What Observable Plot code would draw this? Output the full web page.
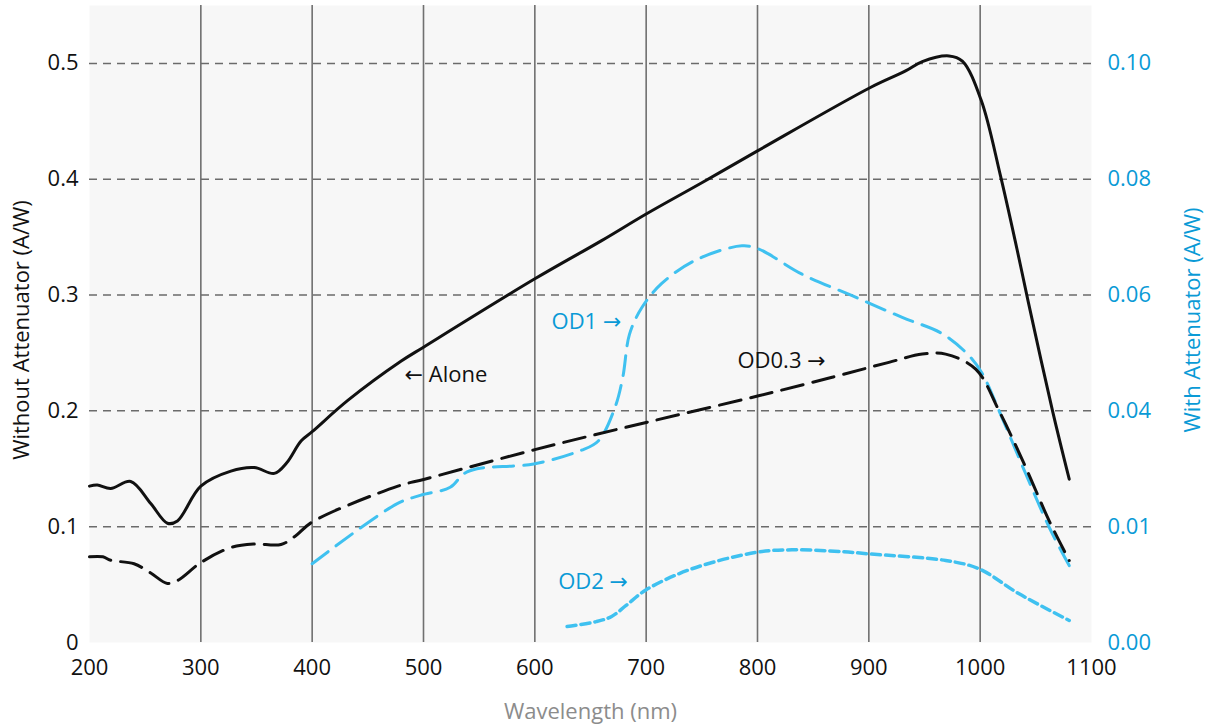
<!DOCTYPE html>
<html><head><meta charset="utf-8">
<script src="https://cdn.jsdelivr.net/npm/d3@7"></script>
<script src="https://cdn.jsdelivr.net/npm/@observablehq/plot@0.6"></script>
<style>body{margin:0;background:#fff;}</style>
</head><body><div id="chart"></div>
<script>
// Wavelength (nm) and responsivity (A/W, left-axis units)
const aloneWl  = [200, 207, 219, 237, 255, 270, 279, 300, 327, 348, 366, 377, 390, 400, 432, 480, 500, 600, 660, 700, 750, 800, 901, 933, 948, 972, 984, 1001, 1018, 1033, 1043, 1065, 1080];
const aloneVal = [0.135, 0.136, 0.133, 0.139, 0.120, 0.103, 0.105, 0.135, 0.148, 0.151, 0.146, 0.155, 0.174, 0.182, 0.209, 0.243, 0.255, 0.314, 0.347, 0.370, 0.397, 0.4245, 0.479, 0.4935, 0.5016, 0.5065, 0.502, 0.468, 0.404, 0.340, 0.295, 0.200, 0.141];

const od03Wl  = [200, 212, 219, 240, 255, 270, 280, 300, 327, 348, 372, 385, 400, 477, 501, 600, 700, 801, 867, 918, 948, 969, 996, 1017, 1041, 1062, 1080];
const od03Val = [0.074, 0.074, 0.071, 0.068, 0.060, 0.051, 0.054, 0.069, 0.082, 0.085, 0.0846, 0.092, 0.104, 0.135, 0.141, 0.1665, 0.190, 0.213, 0.229, 0.2419, 0.249, 0.249, 0.236, 0.200, 0.151, 0.105, 0.0708];

const od1Wl  = [400, 476, 497, 524, 536, 548, 599, 641, 657, 672, 679, 685, 696, 714, 744, 786, 801, 840, 885, 930, 966, 990, 1002, 1017, 1041, 1062, 1080];
const od1Val = [0.068, 0.1197, 0.127, 0.134, 0.1455, 0.150, 0.1542, 0.1657, 0.174, 0.203, 0.229, 0.266, 0.289, 0.310, 0.330, 0.3425, 0.3397, 0.318, 0.2994, 0.2807, 0.2666, 0.2476, 0.232, 0.200, 0.1455, 0.0995, 0.0664];

const od2Wl  = [629, 655, 669, 682, 700, 741, 800, 831, 876, 900, 969, 999, 1035, 1080];
const od2Val = [0.0138, 0.018, 0.0225, 0.032, 0.0455, 0.0636, 0.078, 0.080, 0.0785, 0.0765, 0.0708, 0.0636, 0.042, 0.019];

// Ticks and labels
const xTicks = [200, 300, 400, 500, 600, 700, 800, 900, 1000, 1100];
const yTicks = [0, 0.1, 0.2, 0.3, 0.4, 0.5];
const yLeftLabels  = ["0", "0.1", "0.2", "0.3", "0.4", "0.5"];
const yRightLabels = ["0.00", "0.01", "0.04", "0.06", "0.08", "0.10"];
const gridX = [300, 400, 500, 600, 700, 800, 900, 1000];
const gridY = [0.1, 0.2, 0.3, 0.4, 0.5];

// Annotations
const annText = ["← Alone", "OD1 →", "OD0.3 →", "OD2 →"];
const annX = [483, 615, 782, 621];
const annY = [0.2306, 0.2765, 0.2435, 0.052];
const annSeries = ["black", "blue", "black", "blue"];

const BLUE_LINE = "#3fc1f0";
const BLUE_TEXT = "#0a9ad6";

const rows = (w, v) => w.map((x, i) => ({x, y: v[i]}));
const idx = d => yTicks.findIndex(t => Math.abs(t - d) < 1e-9);
const ann = annText.map((t, i) => ({t, x: annX[i], y: annY[i], c: annSeries[i] === "blue" ? BLUE_TEXT : "#111"}));

const chart = Plot.plot({
  width: 1207, height: 728,
  marginLeft: 89, marginRight: 116, marginTop: 5, marginBottom: 86,
  style: {fontFamily: "'Open Sans', sans-serif", fontSize: "22px", background: "#ffffff", color: "#111"},
  x: {domain: [200, 1100]},
  y: {domain: [0, 0.55]},
  marks: [
    Plot.frame({fill: "#f7f7f7", stroke: "none"}),
    Plot.ruleX(gridX, {stroke: "#707070", strokeWidth: 1.6}),
    Plot.ruleY(gridY, {stroke: "#6b6b6b", strokeWidth: 1.5, strokeDasharray: "8,6"}),
    Plot.axisX({ticks: xTicks, tickSize: 0, tickPadding: 17, tickFormat: d => String(d), label: null, fill: "#111", fontSize: 22}),
    Plot.axisY({ticks: yTicks, tickSize: 0, tickPadding: 11, tickFormat: d => yLeftLabels[idx(d)], label: null, fill: "#111", fontSize: 22}),
    Plot.axisY({anchor: "right", ticks: yTicks, tickSize: 0, tickPadding: 16, tickFormat: d => yRightLabels[idx(d)], label: null, fill: BLUE_TEXT, fontSize: 22}),
    Plot.line(rows(od2Wl, od2Val), {x: "x", y: "y", stroke: BLUE_LINE, strokeWidth: 3.5, strokeDasharray: "9,5", curve: "catmull-rom"}),
    Plot.line(rows(od1Wl, od1Val), {x: "x", y: "y", stroke: BLUE_LINE, strokeWidth: 3, strokeDasharray: "20,10", curve: "catmull-rom"}),
    Plot.line(rows(od03Wl, od03Val), {x: "x", y: "y", stroke: "#111", strokeWidth: 3, strokeDasharray: "22,10", curve: "catmull-rom"}),
    Plot.line(rows(aloneWl, aloneVal), {x: "x", y: "y", stroke: "#111", strokeWidth: 3, curve: "catmull-rom"}),
    Plot.text(ann, {x: "x", y: "y", text: "t", fill: "c", textAnchor: "start", fontSize: 22, fontFamily: "'Open Sans', 'DejaVu Sans', sans-serif"}),
    Plot.text(["Without Attenuator (A/W)"], {frameAnchor: "left", textAnchor: "middle", dx: -68, dy: 6, rotate: -90, fill: "#111", fontSize: 22}),
    Plot.text(["With Attenuator (A/W)"], {frameAnchor: "right", textAnchor: "middle", dx: 101, dy: -4, rotate: -90, fill: BLUE_TEXT, fontSize: 22}),
    Plot.text(["Wavelength (nm)"], {frameAnchor: "bottom", lineAnchor: "middle", dy: 69, fill: "#8c8c8c", fontSize: 22})
  ]
});
document.getElementById("chart").appendChild(chart);
</script>
</body></html>
